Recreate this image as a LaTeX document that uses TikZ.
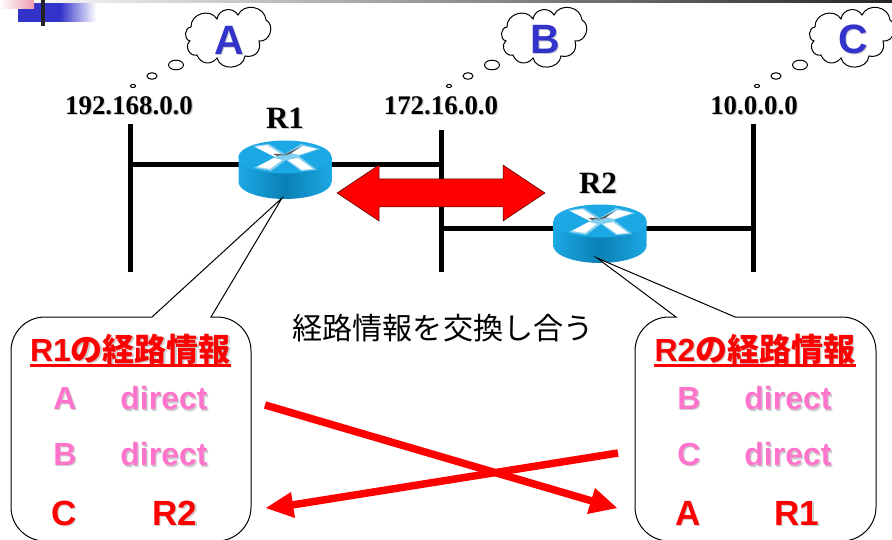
\documentclass[tikz,border=0pt]{standalone}
\usepackage{xcolor}
\usepackage{fontspec}
\usepackage{tikz}
\setmainfont{Liberation Sans}
\newfontfamily\serifip{Liberation Serif}
\newfontfamily\jpfont{Noto Sans CJK JP}
\definecolor{cloudblue}{HTML}{3333CC}
\definecolor{tablepink}{HTML}{FF73CC}
\definecolor{routertop}{HTML}{1CA8E4}
\definecolor{routerside}{HTML}{0A80B4}
\newcommand{\shtext}[1]{\leavevmode\rlap{\kern1.2pt\raisebox{-1.2pt}{\textcolor{black!20}{#1}}}#1}
\tikzset{
    ipaddr/.style={font=\serifip\bfseries\fontsize{26.9}{27}\selectfont, inner sep=0pt},
    rname/.style={font=\serifip\bfseries\fontsize{31}{31}\selectfont, inner sep=0pt},
    cloudname/.style={font=\bfseries\fontsize{41}{41}\selectfont, text=cloudblue, inner sep=0pt},
    infotitle/.style={font=\bfseries\fontsize{32}{32}\selectfont, text=red, inner sep=0pt, anchor=base},
    titlerule/.style={draw=red, line width=2.4pt},
    direntry/.style={font=\bfseries\fontsize{32}{32}\selectfont, text=tablepink, inner sep=0pt},
    learnt/.style={font=\bfseries\fontsize{35}{35}\selectfont, text=red, inner sep=0pt},
    bus/.style={line width=5pt},
    balloon/.style={line width=1pt, draw=black},
    crossarrow/.style={draw=red, line width=7.5pt},
    crosstip/.style={fill=red},
    pics/router/.style={code={
        \shade[left color=routertop, right color=routertop, middle color=routerside]
            (-46.5,0) -- (-46.5,25) arc[start angle=180, end angle=0, x radius=46.5, y radius=17] -- (46.5,0) -- cycle;
        \fill[routertop] (0,0) circle[x radius=46.5, y radius=16.5];
        \fill[routertop!55!white] (-32,-11) -- (-16,-13) -- (0,-3) -- (16,-13) -- (35,-8) -- (14,-1) -- (32,13) -- (16,14)
            -- (1,3) -- (-14,14) -- (-31,11) -- (-10,0) -- cycle;
        \fill[white] (-30,-10) -- (-18,-12) -- (-4,-3) -- (-10,0) -- cycle;
        \fill[white] (18,-11) -- (32,-8) -- (14,-2) -- (6,-4) -- cycle;
        \fill[white] (-28,10) -- (-11,1) -- (-3,3) -- (-15,12) -- cycle;
        \fill[white] (3,3) -- (13,1) -- (28,12) -- (17,13) -- cycle;
        \fill[black!65] (-12,-3) -- (-1,-3) -- (-8,-1) -- cycle;
        \fill[black!65] (-3,-1) -- (15,-10) -- (5,-3) -- cycle;
    }},
    pics/thought/.style={code={
        \draw[line width=1pt, looseness=1.25] (-39,-11) to[bend left=75] (-13,-19) to[bend left=70] (8,-23)
            to[bend left=75] (36,-18) to[bend left=80] (29,3) to[bend left=60] (15,18)
            to[bend left=80] (-13,20) to[bend left=60] (-33,17) to[bend left=80] (-40,3)
            to[bend left=80] cycle;
        \draw[line width=1pt] (-54,27) circle[x radius=7.5, y radius=4.8];
        \draw[line width=1pt] (-78,38) circle[x radius=5, y radius=3.3];
        \draw[line width=1pt] (-97,48) circle[x radius=2.5, y radius=1.6];
    }}
}
\begin{document}
\begin{tikzpicture}[x=1pt, y=-1pt]
    \useasboundingbox (0, 0) rectangle (892, 540);
    \clip (0, 0) rectangle (892, 540);

    % slide corner
    \fill[cloudblue] (18, 3) rectangle (60, 22);
    \shade[left color=cloudblue, right color=white] (60, 3) rectangle (96, 22);
    \shade[left color=white, right color=black!85!white] (892, 0) rectangle (8, 3);
    \shade[left color=white, right color=pink!60!purple!70] (0, 0) rectangle (34, 9);
    \fill[black!85] (41, 0) rectangle (45, 26);

    % networks
    \coordinate (netAtop) at (130, 124);
    \coordinate (netAend) at (130, 272);
    \coordinate (netBtop) at (441, 130);
    \coordinate (netBend) at (441, 272);
    \coordinate (netCtop) at (753, 124);
    \coordinate (netCend) at (753, 272);
    \coordinate (R1link) at (441, 165);
    \coordinate (R1net) at (130, 165);
    \coordinate (R2link) at (441, 229);
    \coordinate (R2net) at (756, 229);
    \draw[bus] (netAtop) -- (netAend);
    \draw[bus] (netBtop) -- (netBend);
    \draw[bus] (netCtop) -- (netCend);
    \draw[bus] (R1net) -- (R1link);
    \draw[bus] (R2link) -- (R2net);

    \node[ipaddr] (ipA) at (129, 106) {\shtext{192.168.0.0}};
    \node[ipaddr] (ipB) at (441, 106) {\shtext{172.16.0.0}};
    \node[ipaddr] (ipC) at (754, 106) {\shtext{10.0.0.0}};

    % thought clouds
    \pic at (230, 38) {thought};
    \pic at (546, 38) {thought};
    \pic at (854, 38) {thought};
    \node[cloudname] (cloudA) at (229, 41) {\shtext{A}};
    \node[cloudname] (cloudB) at (545, 40) {\shtext{B}};
    \node[cloudname] (cloudC) at (853, 40) {\shtext{C}};

    % routers
    \coordinate (R1) at (285, 157);
    \coordinate (R2) at (600, 221);
    \pic at (R1) {router};
    \pic at (R2) {router};
    \node[rname] (nameR1) at (285, 119) {\shtext{R1}};
    \node[rname] (nameR2) at (598, 184) {\shtext{R2}};

    % exchange arrow
    \filldraw[fill=red, draw=black!70!red, line width=0.5pt] (337, 193) -- (379, 165) -- (379, 179) -- (503, 179) -- (503, 165) -- (545, 193)
        -- (503, 221) -- (503, 207) -- (379, 207) -- (379, 221) -- cycle;
    \node[font=\jpfont\fontsize{30.1}{30}\selectfont, inner sep=0pt] (exchange) at (443, 328) {経路情報を交換し合う};

    % balloons
    \coordinate (tipR1) at (282, 198);
    \coordinate (tipR2) at (597, 258);
    \draw[balloon, fill=white] (tipR1) -- (211, 317) [rounded corners=34] -- (251, 317) -- (251, 541) -- (11, 541) -- (11, 317)
        [sharp corners] -- (152, 317) -- cycle;
    \draw[balloon, fill=white] (tipR2) -- (735, 317) [rounded corners=34] -- (876, 317) -- (876, 541) -- (635, 541) -- (635, 317)
        [sharp corners] -- (676, 317) -- cycle;

    \node[infotitle] (titleR1) at (130.5, 361) {\shtext{R1{\jpfont の経路情報}}};
    \draw[titlerule] (titleR1.south west) -- (titleR1.south east);
    \node[direntry] (destA1) at (65, 399) {\shtext{A}};
    \node[direntry] (hopA1) at (164, 399) {\shtext{direct}};
    \node[direntry] (destB1) at (65, 455) {\shtext{B}};
    \node[direntry] (hopB1) at (164, 455) {\shtext{direct}};
    \node[learnt] (destC1) at (64, 514) {\shtext{C}};
    \node[learnt] (hopC1) at (175, 514) {\shtext{R2}};

    \node[infotitle] (titleR2) at (755, 361) {\shtext{R2{\jpfont の経路情報}}};
    \draw[titlerule] (titleR2.south west) -- (titleR2.south east);
    \node[direntry] (destB2) at (689, 399) {\shtext{B}};
    \node[direntry] (hopB2) at (788, 399) {\shtext{direct}};
    \node[direntry] (destC2) at (689, 455) {\shtext{C}};
    \node[direntry] (hopC2) at (788, 455) {\shtext{direct}};
    \node[learnt] (destA2) at (688, 514) {\shtext{A}};
    \node[learnt] (hopA2) at (797, 514) {\shtext{R1}};

    % crossing routes
    \coordinate (fromR1) at (265, 405);
    \coordinate (intoR2) at (592, 501);
    \coordinate (tipintoR2) at (617, 508);
    \coordinate (fromR2) at (618, 453);
    \coordinate (intoR1) at (292, 505);
    \coordinate (tipintoR1) at (266, 508);
    \draw[crossarrow] (fromR1) -- (intoR2);
    \draw[crossarrow] (fromR2) -- (intoR1);
    \fill[crosstip] (tipintoR2) -- (587, 514) -- (595, 488) -- cycle;
    \fill[crosstip] (tipintoR1) -- (291, 492) -- (295, 518) -- cycle;
\end{tikzpicture}
\end{document}
